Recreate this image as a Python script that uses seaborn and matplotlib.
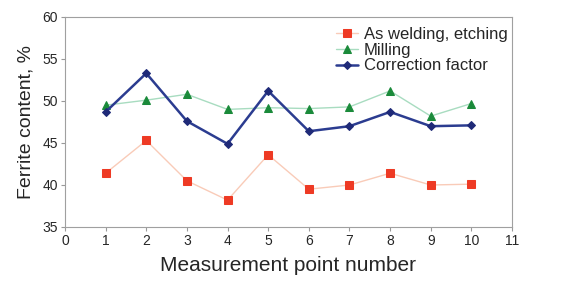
import numpy as np
import pandas as pd
import matplotlib
matplotlib.use('Agg')
import matplotlib.pyplot as plt
import seaborn as sns

points = np.arange(1, 11)
as_welding = [41.4, 45.3, 40.5, 38.2, 43.6, 39.5, 40.0, 41.4, 40.0, 40.1]
milling = [49.5, 50.1, 50.8, 49.0, 49.2, 49.1, 49.3, 51.2, 48.2, 49.7]
correction = [48.7, 53.3, 47.6, 44.9, 51.2, 46.4, 47.0, 48.7, 47.0, 47.1]

series_names = ['As welding, etching', 'Milling', 'Correction factor']

sns.set_style('white')
plt.rcParams['font.family'] = ['Liberation Sans', 'DejaVu Sans']

fig = plt.figure(figsize=(5.65, 2.84), dpi=100)
ax = fig.add_axes([65 / 565, 1 - 227 / 284, (512 - 65) / 565, (227 - 17) / 284])

styles = [
    (as_welding, dict(color='#f9cbb8', lw=1.0, marker='s', markersize=5.5,
                      markerfacecolor='#ee3a24', markeredgecolor='#ee3a24')),
    (milling, dict(color='#a8dcc0', lw=1.0, marker='^', markersize=6,
                   markerfacecolor='#1a8a3a', markeredgecolor='#1a8a3a')),
    (correction, dict(color='#2b3c90', lw=1.8, marker='D', markersize=4.5,
                      markerfacecolor='#1f2a78', markeredgecolor='#1f2a78')),
]
for name, (vals, kw) in zip(series_names, styles):
    df = pd.DataFrame({'point': points, 'value': vals})
    sns.lineplot(data=df, x='point', y='value', ax=ax, label=name, **kw)

ax.set_xlim(0, 11)
ax.set_ylim(35, 60)
ax.set_xticks(range(0, 12))
ax.set_yticks(range(35, 61, 5))
ax.tick_params(axis='both', labelsize=10, length=3, direction='out',
               color='#999999', bottom=True, left=True, pad=2)
for s in ax.spines.values():
    s.set_color('#a0a0a0')
    s.set_linewidth(0.8)

ax.set_xlabel('Measurement point number', fontsize=15, labelpad=6)
ax.set_ylabel('Ferrite content, %', fontsize=14, labelpad=6)

leg = ax.legend(loc='upper right', frameon=False, fontsize=12,
                handlelength=1.3, handletextpad=0.35, labelspacing=0.05,
                borderaxespad=0.0, bbox_to_anchor=(1.005, 0.985))

fig.savefig('out.png', dpi=100)
